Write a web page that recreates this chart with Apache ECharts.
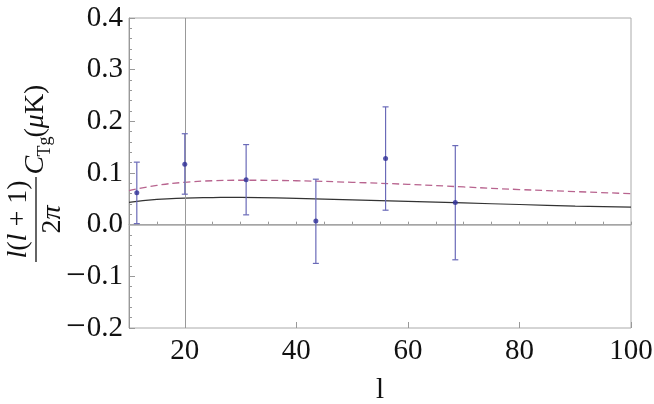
<!DOCTYPE html>
<html>
<head>
<meta charset="utf-8">
<script src="https://cdn.jsdelivr.net/npm/echarts@6/dist/echarts.min.js"></script>
<style>html,body{margin:0;padding:0;background:#fff}#c{width:654px;height:404px}</style>
</head>
<body>
<div id="c"></div>
<script>
// ---- data ----
const curveL = [10, 15, 20, 25, 30, 40, 50, 60, 70, 80, 90, 100];
const solidCurve = [0.043, 0.049, 0.0515, 0.0525, 0.053, 0.051, 0.048, 0.045, 0.042, 0.039, 0.036, 0.034];
const dashedCurve = [0.066, 0.076, 0.082, 0.085, 0.086, 0.085, 0.082, 0.078, 0.073, 0.068, 0.064, 0.060];
const pointL = [11.4, 20, 31, 43.5, 56, 68.5];
const pointVal = [0.062, 0.117, 0.087, 0.007, 0.128, 0.043];
const errLow = [0.002, 0.059, 0.019, -0.075, 0.028, -0.068];
const errHigh = [0.121, 0.176, 0.155, 0.088, 0.228, 0.153];
const xTickLabels = [20, 40, 60, 80, 100];
const yTickLabels = [-0.2, -0.1, 0.0, 0.1, 0.2, 0.3, 0.4];

const serif = '"Liberation Serif", "DejaVu Serif", serif';
const chart = echarts.init(document.getElementById('c'), null, {renderer: 'canvas'});

const solidData = curveL.map((l, i) => [l, solidCurve[i]]);
const dashedData = curveL.map((l, i) => [l, dashedCurve[i]]);
const pointData = pointL.map((l, i) => [l, pointVal[i]]);
const errData = pointL.map((l, i) => [l, errLow[i], errHigh[i]]);

const GL = 129, GT = 18, GR = 654 - 631, GB = 404 - 328;
const FS = 29;

chart.setOption({
  animation: false,
  backgroundColor: '#fff',
  grid: {left: GL, top: GT, right: GR, bottom: GB, show: true, borderColor: '#aaa', borderWidth: 1,
         backgroundColor: 'transparent', containLabel: false, outerBoundsMode: 'none'},
  xAxis: [{
    type: 'value', min: 10, max: 100, interval: 5,
    axisLine: {show: true, lineStyle: {color: '#999', width: 1}},
    axisTick: {show: true, inside: true, length: 3, lineStyle: {color: '#999'}},
    splitLine: {show: false},
    axisLabel: {
      customValues: xTickLabels,
      fontFamily: serif, fontSize: FS, color: '#111', margin: 9,
      formatter: v => String(v)
    },
    name: 'l', nameLocation: 'middle', nameGap: 48,
    nameTextStyle: {fontFamily: serif, fontSize: FS, color: '#111'}
  }, {
    type: 'value', min: 10, max: 100, position: 'bottom',
    axisLine: {show: false},
    axisTick: {show: true, inside: true, length: 6, customValues: xTickLabels, lineStyle: {color: '#999'}},
    axisLabel: {show: false},
    splitLine: {show: false}
  }],
  yAxis: {
    type: 'value', min: -0.2, max: 0.4, interval: 0.1,
    axisLine: {show: true, lineStyle: {color: '#999', width: 1}},
    axisTick: {show: true, inside: true, length: 6, lineStyle: {color: '#999'}},
    minorTick: {show: true, splitNumber: 5, length: 3, lineStyle: {color: '#999'}},
    splitLine: {show: false},
    axisLabel: {
      fontFamily: serif, fontSize: FS, color: '#111', margin: 6,
      formatter: v => {
        const s = Math.abs(v).toFixed(1);
        return v < -1e-9 ? '{m|\u2212}{d|' + s + '}' : '{d|' + s + '}';
      },
      rich: {
        m: {fontFamily: serif, fontSize: 35, color: '#111', padding: [0, 1, 0, 0]},
        d: {fontFamily: serif, fontSize: FS, color: '#111'}
      }
    }
  },
  series: [
    {
      type: 'line', data: [], silent: true,
      markLine: {
        silent: true, symbol: 'none', label: {show: false},
        data: [
          {xAxis: 20, lineStyle: {color: '#999', width: 1, type: 'solid'}},
          {yAxis: 0, lineStyle: {color: '#aaa', width: 1.6, type: 'solid'}}
        ]
      }
    },
    {
      type: 'line', data: dashedData, smooth: true, symbol: 'none',
      lineStyle: {color: '#b8648f', width: 1.3, type: [7, 4]}
    },
    {
      type: 'line', data: solidData, smooth: true, symbol: 'none',
      lineStyle: {color: '#333', width: 1.2}
    },
    {
      type: 'custom', data: errData,
      renderItem: function (params, api) {
        const x = api.value(0);
        const lo = api.coord([x, api.value(1)]);
        const hi = api.coord([x, api.value(2)]);
        const w = 3;
        const st = {stroke: '#6a6ab8', lineWidth: 1.2};
        return {
          type: 'group',
          children: [
            {type: 'line', shape: {x1: lo[0], y1: lo[1], x2: hi[0], y2: hi[1]}, style: st},
            {type: 'line', shape: {x1: lo[0] - w, y1: lo[1], x2: lo[0] + w, y2: lo[1]}, style: st},
            {type: 'line', shape: {x1: hi[0] - w, y1: hi[1], x2: hi[0] + w, y2: hi[1]}, style: st}
          ]
        };
      },
      z: 5
    },
    {
      type: 'scatter', data: pointData, symbol: 'circle', symbolSize: 5,
      itemStyle: {color: '#2e2e96'}, z: 6
    }
  ],
  graphic: [{
    type: 'group', x: 36, y: 219.5, rotation: Math.PI / 2,
    children: [
      {type: 'line', shape: {x1: -42.5, y1: 0, x2: 42.5, y2: 0}, style: {stroke: '#111', lineWidth: 1.3}},
      {type: 'text', x: 0, y: -3, style: {
        text: '{i|l}{n|(}{i|l}{n| + 1)}', align: 'center', verticalAlign: 'bottom',
        rich: {i: {fontFamily: serif, fontStyle: 'italic', fontSize: 28, fill: '#111'},
               n: {fontFamily: serif, fontSize: 28, fill: '#111'}}
      }},
      {type: 'text', x: 0, y: 3, style: {
        text: '{n|2}{i|π}', align: 'center', verticalAlign: 'top',
        rich: {i: {fontFamily: serif, fontStyle: 'italic', fontSize: 28, fill: '#111'},
               n: {fontFamily: serif, fontSize: 28, fill: '#111'}}
      }},
      {type: 'text', x: 45, y: 0, style: {
        text: 'C', fontFamily: serif, fontStyle: 'italic', fontSize: 28, fill: '#111',
        align: 'left', verticalAlign: 'middle'
      }},
      {type: 'text', x: 63, y: 9, style: {
        text: 'Tg', fontFamily: serif, fontSize: 18, fill: '#111',
        align: 'left', verticalAlign: 'middle'
      }},
      {type: 'text', x: 82, y: 0, style: {
        text: '{n|(}{i|μ}{n|K)}', align: 'left', verticalAlign: 'middle',
        rich: {i: {fontFamily: serif, fontStyle: 'italic', fontSize: 28, fill: '#111'},
               n: {fontFamily: serif, fontSize: 28, fill: '#111'}}
      }}
    ]
  }]
});
</script>
</body>
</html>
